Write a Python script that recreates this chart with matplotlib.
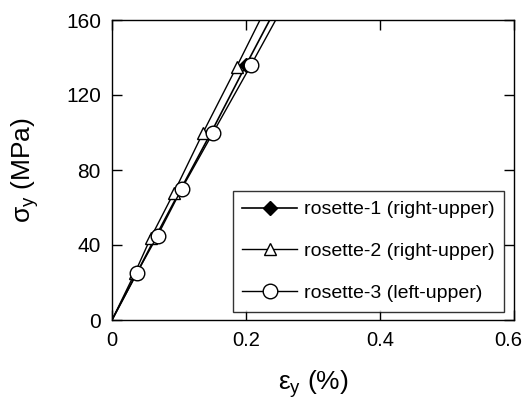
import matplotlib
matplotlib.use("Agg")
import matplotlib.pyplot as plt
from matplotlib.transforms import ScaledTranslation

plt.rcParams['font.family'] = ['Liberation Sans', 'DejaVu Sans']
plt.rcParams['mathtext.fontset'] = 'custom'
plt.rcParams['mathtext.rm'] = 'Liberation Sans'
plt.rcParams['mathtext.it'] = 'Liberation Sans'
plt.rcParams['mathtext.bf'] = 'Liberation Sans:bold'

# Data (strain in %, stress in MPa); last point extends past the plotted range
r1_strain = [0.0, 0.037, 0.066, 0.103, 0.148, 0.200, 0.262]
r1_stress = [0, 25, 45, 70, 100, 136, 178]
r2_strain = [0.0, 0.034, 0.058, 0.0925, 0.136, 0.186, 0.246]
r2_stress = [0, 25, 44, 68, 100, 135, 178]
r3_strain = [0.0, 0.037, 0.068, 0.104, 0.151, 0.2075, 0.272]
r3_stress = [0, 25, 45, 70, 100, 136, 178]

labels = ['rosette-1 (right-upper)', 'rosette-2 (right-upper)', 'rosette-3 (left-upper)']
x_ticks = [0, 0.2, 0.4, 0.6]
x_ticklabels = ['0', '0.2', '0.4', '0.6']
y_ticks = [0, 40, 80, 120, 160]

fig = plt.figure(figsize=(5.27, 4.08), dpi=100)
ax = fig.add_axes([112/527, 88/408, 402/527, 300/408])

mk = list(range(1, 6))
ax.plot(r1_strain, r1_stress, color='black', lw=1.2, marker='D', ms=7,
        mfc='black', mec='black', label=labels[0], markevery=mk)
ax.plot(r2_strain, r2_stress, color='black', lw=1.0, marker='^', ms=8,
        mfc='white', mec='black', mew=1.0, label=labels[1], markevery=mk)
ax.plot(r3_strain, r3_stress, color='black', lw=1.0, marker='o', ms=10.5,
        mfc='white', mec='black', mew=1.0, label=labels[2], markevery=mk)

ax.set_xlim(0, 0.6)
ax.set_ylim(0, 160)
ax.set_xticks(x_ticks)
ax.set_xticklabels(x_ticklabels)
ax.set_yticks(y_ticks)
ax.tick_params(direction='in', length=7, width=1, top=True, right=True,
               labelsize=15, pad=8)
ax.tick_params(axis='x', labelsize=14.5)
for s in ax.spines.values():
    s.set_linewidth(1.0)

# nudge the last x tick label so it stays inside the figure
lbl = ax.get_xticklabels()[-1]
lbl.set_transform(lbl.get_transform() + ScaledTranslation(-6/100, 0, fig.dpi_scale_trans))

ax.set_xlabel(r'$\varepsilon_y$ (%)', fontsize=19, labelpad=13)
ax.set_ylabel(r'$\sigma_y$ (MPa)', fontsize=19, labelpad=18)

leg = ax.legend(loc='lower right', bbox_to_anchor=(0.975, 0.027), borderaxespad=0,
                fontsize=14, frameon=True, fancybox=False, edgecolor='black',
                handlelength=2.8, handletextpad=0.35, labelspacing=1.25,
                borderpad=0.5)
leg.get_frame().set_linewidth(1.0)

fig.savefig('out.png', dpi=100)
